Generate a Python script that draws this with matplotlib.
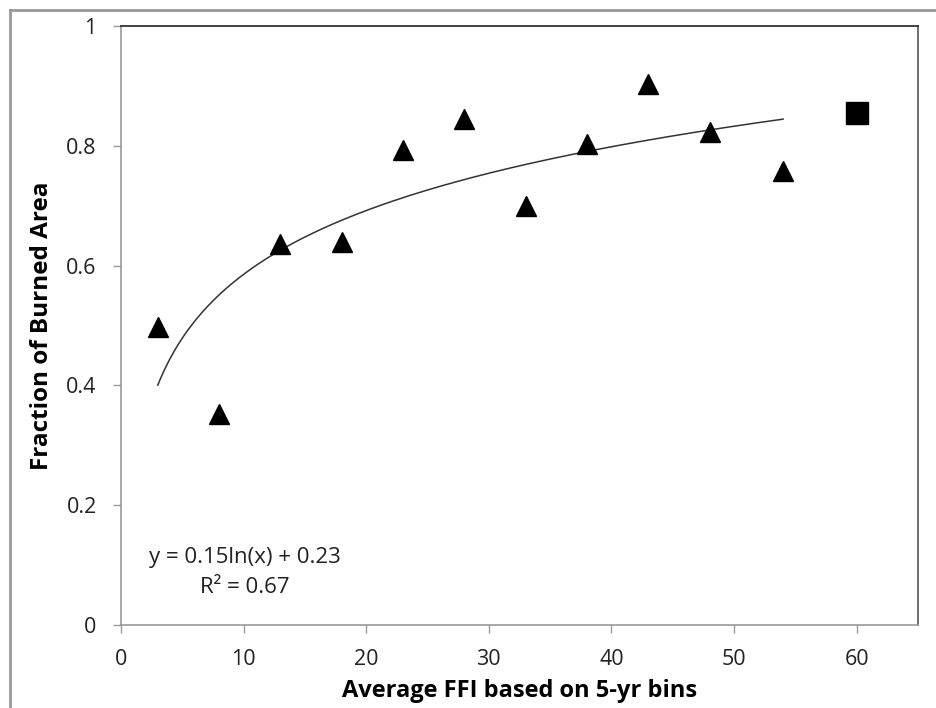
import numpy as np
import matplotlib.pyplot as plt
from matplotlib.lines import Line2D

# FFI bins and burned-area fraction
ffi = [3, 8, 13, 18, 23, 28, 33, 38, 43, 48, 54]
burned = [0.497, 0.352, 0.636, 0.640, 0.793, 0.845, 0.700, 0.803, 0.903, 0.823, 0.758]
ffi_last = [60]
burned_last = [0.855]

xticks = [0, 10, 20, 30, 40, 50, 60]
yticks = [0, 0.2, 0.4, 0.6, 0.8, 1.0]
ytick_labels = ['0', '0.2', '0.4', '0.6', '0.8', '1']

plt.rcParams['font.family'] = ['Open Sans', 'DejaVu Sans']

fig = plt.figure(figsize=(9.37, 7.08), dpi=100)
ax = fig.add_axes([121 / 937, 1 - 625 / 708, 797 / 937, 599 / 708])

# logarithmic trendline fitted to the triangles
b, a = np.polyfit(np.log(ffi), burned, 1)
xs = np.linspace(min(ffi), max(ffi), 200)
ax.plot(xs, b * np.log(xs) + a, color='#333333', lw=1.1, zorder=2)

ax.plot(ffi, burned, '^', color='black', markersize=14.5, zorder=3)
ax.plot(ffi_last, burned_last, 's', color='black', markersize=15.5,
        markeredgewidth=1, markeredgecolor='black', zorder=3)

ax.set_xlim(0, 65)
ax.set_ylim(0, 1)
ax.set_xticks(xticks)
ax.set_yticks(yticks)
ax.set_yticklabels(ytick_labels)
ax.tick_params(direction='out', length=5.5, width=1, color='#999999',
               labelsize=15.5, pad=12, labelcolor='#222222')

for side in ['left', 'bottom']:
    ax.spines[side].set_color('#999999')
    ax.spines[side].set_linewidth(1.2)
ax.spines['top'].set_color('#222222')
ax.spines['right'].set_color('#555555')
ax.spines['top'].set_linewidth(1.2)
ax.spines['right'].set_linewidth(1.2)

ax.set_xlabel('Average FFI based on 5-yr bins', fontsize=17, fontweight='bold', labelpad=6)
ax.set_ylabel('Fraction of Burned Area', fontsize=17.5, fontweight='bold', labelpad=9)

ax.text(10.1, 0.112, 'y = 0.15ln(x) + 0.23', fontsize=16, va='center', ha='center', color='#222222')
ax.text(10.1, 0.062, 'R² = 0.67', fontsize=16, va='center', ha='center', color='#222222')

# outer chart frame (left and top edges visible)
fig.add_artist(Line2D([10 / 937, 10 / 937], [0, 1 - 10 / 708], transform=fig.transFigure,
                      color='#999999', lw=2))
fig.add_artist(Line2D([10 / 937, 1], [1 - 10 / 708, 1 - 10 / 708], transform=fig.transFigure,
                      color='#999999', lw=2))

fig.savefig('out.png', dpi=100)
